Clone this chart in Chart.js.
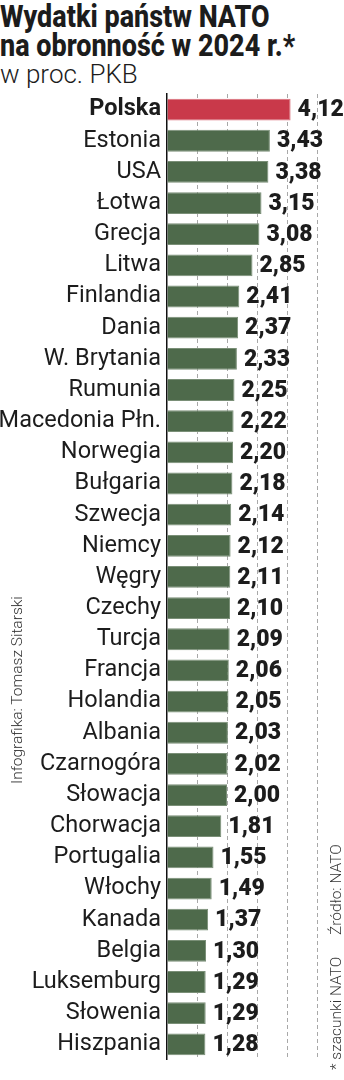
<!DOCTYPE html>
<html>
<head>
<meta charset="utf-8">
<script src="https://cdn.jsdelivr.net/npm/chart.js@4"></script>
<style>
html,body{margin:0;padding:0;background:#fff;overflow:hidden;}
body{width:344px;height:1080px;position:relative;font-family:Roboto,sans-serif;color:#1c1c1c;}
.title{position:absolute;left:0;top:2px;font-weight:800;font-size:31px;line-height:29px;white-space:nowrap;transform:scaleX(0.87);transform-origin:0 0;}
.sub{position:absolute;left:0;top:59px;font-weight:300;font-size:26px;line-height:30px;white-space:nowrap;}
.side{position:absolute;font-weight:300;font-size:15.5px;line-height:15px;white-space:nowrap;transform:rotate(-90deg);transform-origin:0 0;color:#333;}
#wrap{position:absolute;left:0;top:0;width:344px;height:1080px;}
</style>
</head>
<body>
<div class="title">Wydatki państw NATO<br>na obronność w 2024 r.*</div>
<div class="sub">w proc. PKB</div>
<div id="wrap"><canvas id="chart"></canvas></div>
<div class="side" style="left:10px;top:784px;">Infografika: Tomasz Sitarski</div>
<div class="side" style="left:329px;top:935px;">Źródło: NATO</div>
<div class="side" style="left:329px;top:1070px;">* szacunki NATO</div>
<script>
// dane z grafiki
let countries=["Polska","Estonia","USA","Łotwa","Grecja","Litwa","Finlandia","Dania","W. Brytania","Rumunia",
  "Macedonia Płn.","Norwegia","Bułgaria","Szwecja","Niemcy","Węgry","Czechy","Turcja","Francja","Holandia",
  "Albania","Czarnogóra","Słowacja","Chorwacja","Portugalia","Włochy","Kanada","Belgia","Luksemburg","Słowenia","Hiszpania"];
let spending=[4.12,3.43,3.38,3.15,3.08,2.85,2.41,2.37,2.33,2.25,
  2.22,2.20,2.18,2.14,2.12,2.11,2.10,2.09,2.06,2.05,
  2.03,2.02,2.00,1.81,1.55,1.49,1.37,1.30,1.29,1.29,1.28];
let highlight="Polska";

let barColors=countries.map(c => c==highlight ? "#c9394a" : "#4e6a4b");
let barBorders=countries.map(c => c==highlight ? "#d9707c" : "#7a8f77");

const valueLabels={
  id:"valueLabels",
  afterDatasetsDraw(chart){
    let ctx=chart.ctx;
    let meta=chart.getDatasetMeta(0);
    ctx.save();
    ctx.font="900 23px Roboto";
    ctx.fillStyle="#1c1c1c";
    ctx.textAlign="left";
    ctx.textBaseline="middle";
    meta.data.forEach((bar,i)=>{
      ctx.fillText(spending[i].toFixed(2).replace(".",","),bar.x+7,bar.y+1);
    });
    ctx.restore();
  }
};

new Chart(document.getElementById("chart").getContext("2d"),{
  type:"bar",
  data:{
    labels:countries,
    datasets:[{
      data:spending,
      backgroundColor:barColors,
      borderColor:barBorders,
      borderWidth:1,
      barPercentage:0.7,
      categoryPercentage:1
    }]
  },
  options:{
    indexAxis:"y",
    responsive:true,
    maintainAspectRatio:false,
    animation:false,
    layout:{padding:{top:94,bottom:1,left:0,right:0}},
    plugins:{legend:{display:false},tooltip:{enabled:false}},
    scales:{
      x:{
        min:0,max:5.9,
        ticks:{display:false,stepSize:1,includeBounds:false},
        grid:{color:c => c.tick && c.tick.value==0 ? "rgba(0,0,0,0)" : "#a8a8a8",lineWidth:1,drawTicks:false},
        border:{display:false,dash:[4,3]},
        afterFit(scale){scale.height=0;}
      },
      y:{
        grid:{display:false,drawTicks:false},
        border:{display:true,color:"#111",width:1.5},
        ticks:{
          padding:6,
          color:"#1c1c1c",
          font:c => ({family:"Roboto",size:23.5,weight:c.index==0 ? "bold" : "normal"})
        },
        afterFit(scale){scale.width=167;}
      }
    }
  },
  plugins:[valueLabels]
});
</script>
</body>
</html>
